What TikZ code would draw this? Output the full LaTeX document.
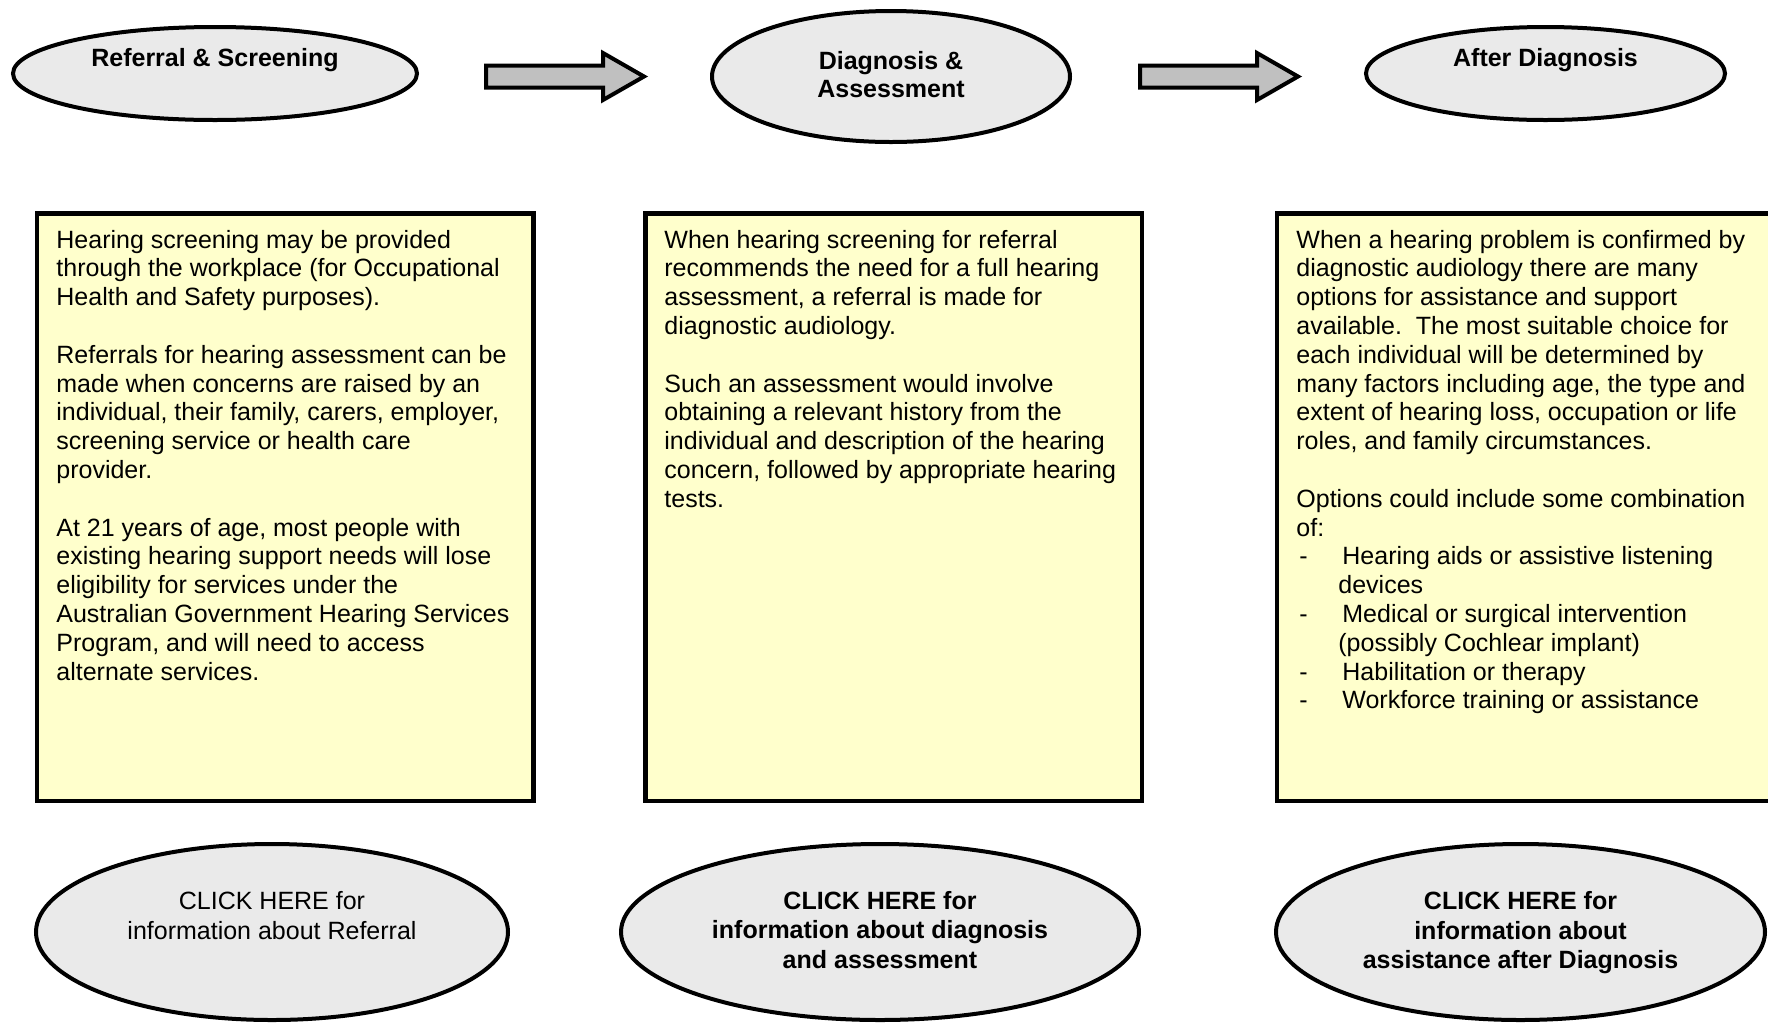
\documentclass[tikz,border=0pt]{standalone}
\usepackage{fontspec}
\setmainfont{Liberation Sans}
\usetikzlibrary{shapes.geometric}
\definecolor{ovalgray}{HTML}{EAEAEA}
\definecolor{arrowgray}{HTML}{C0C0C0}
\definecolor{notepad}{HTML}{FFFFCC}
\begin{document}
\begin{tikzpicture}[x=0.5pt,y=-0.5pt,
  oval/.style={ellipse,draw=black,line width=2pt,fill=ovalgray,inner sep=0pt},
  infobox/.style={draw=black,line width=2.25pt,fill=notepad,inner sep=0pt,
    minimum width=248.25pt,minimum height=293.75pt,anchor=north west},
  boxtext/.style={anchor=north west,align=left,inner sep=0pt,
    font=\fontsize{12.5}{14.4}\selectfont},
  headtext/.style={align=center,inner sep=0pt,
    font=\fontsize{12.5}{14.4}\selectfont\bfseries},
  linktext/.style={align=center,inner sep=0pt,
    font=\fontsize{12.5}{14.7}\selectfont},
  blockarrow/.style={draw=black,line width=2pt,fill=arrowgray,line join=miter}]

  \useasboundingbox (0,0) rectangle (1768,1024);

  % Ovalos de las etapas
  \node[oval,minimum width=202pt,minimum height=46.5pt] (refoval) at (215,73.5) {};
  \node[oval,minimum width=179pt,minimum height=65.5pt] (diagoval) at (891,76.5) {};
  \node[oval,minimum width=179.5pt,minimum height=46.5pt] (afteroval) at (1545.5,73.5) {};
  \node[headtext] (reftitle) at ([yshift=6.65pt]refoval.center) {Referral \& Screening};
  \node[headtext] (diagtitle) at ([yshift=1pt]diagoval.center) {Diagnosis \&\\Assessment};
  \node[headtext] (aftertitle) at ([yshift=6.65pt]afteroval.center) {After Diagnosis};

  % Flechas entre etapas
  \coordinate (arrowA) at (486,76.5);
  \coordinate (arrowB) at (1140,76.5);
  \foreach \a in {arrowA,arrowB}
    \draw[blockarrow] (\a) ++(0,-11) -- ++(117,0) -- ++(0,-12.5) -- ++(41,23.5)
      -- ++(-41,23.5) -- ++(0,-12.5) -- ++(-117,0) -- cycle;

  % Cuadros de texto
  \node[infobox] (refbox) at (34.5,211.3) {};
  \node[infobox] (diagbox) at (643.3,211.3) {};
  \node[infobox] (afterbox) at (1274.8,211.3) {};

  \node[boxtext] (reftext) at (56,229.5) {Hearing screening may be provided\\
    through the workplace (for Occupational\\
    Health and Safety purposes).\\[14.4pt]
    Referrals for hearing assessment can be\\
    made when concerns are raised by an\\
    individual, their family, carers, employer,\\
    screening service or health care\\
    provider.\\[14.4pt]
    At 21 years of age, most people with\\
    existing hearing support needs will lose\\
    eligibility for services under the\\
    Australian Government Hearing Services\\
    Program, and will need to access\\
    alternate services.};

  \node[boxtext] (diagtext) at (664,229.5) {When hearing screening for referral\\
    recommends the need for a full hearing\\
    assessment, a referral is made for\\
    diagnostic audiology.\\[14.4pt]
    Such an assessment would involve\\
    obtaining a relevant history from the\\
    individual and description of the hearing\\
    concern, followed by appropriate hearing\\
    tests.};

  \node[boxtext] (aftertext) at (1296,229.5) {When a hearing problem is confirmed by\\
    diagnostic audiology there are many\\
    options for assistance and support\\
    available.\ \ The most suitable choice for\\
    each individual will be determined by\\
    many factors including age, the type and\\
    extent of hearing loss, occupation or life\\
    roles, and family circumstances.\\[14.4pt]
    Options could include some combination\\
    of:\\
    \hspace*{1.5pt}\makebox[21.5pt][l]{-}Hearing aids or assistive listening\\
    \hspace*{21pt}devices\\
    \hspace*{1.5pt}\makebox[21.5pt][l]{-}Medical or surgical intervention\\
    \hspace*{21pt}(possibly Cochlear implant)\\
    \hspace*{1.5pt}\makebox[21.5pt][l]{-}Habilitation or therapy\\
    \hspace*{1.5pt}\makebox[21.5pt][l]{-}Workforce training or assistance};

  % Ovalos de enlace
  \node[oval,minimum width=236pt,minimum height=88pt] (reflink) at (272,932) {};
  \node[oval,minimum width=259pt,minimum height=88pt] (diaglink) at (880,932) {};
  \node[oval,minimum width=244.5pt,minimum height=88pt] (afterlink) at (1520.5,932) {};
  \node[linktext] (reflinktext) at ([yshift=8.25pt]reflink.center) {CLICK HERE for\\information about Referral};
  \node[linktext,font=\fontsize{12.5}{14.7}\selectfont\bfseries] (diaglinktext) at ([yshift=1pt]diaglink.center)
    {CLICK HERE for\\information about diagnosis\\and assessment};
  \node[linktext,font=\fontsize{12.5}{14.7}\selectfont\bfseries] (afterlinktext) at ([yshift=-0.3pt]afterlink.center)
    {CLICK HERE for\\information about\\assistance after Diagnosis};

\end{tikzpicture}
\end{document}
